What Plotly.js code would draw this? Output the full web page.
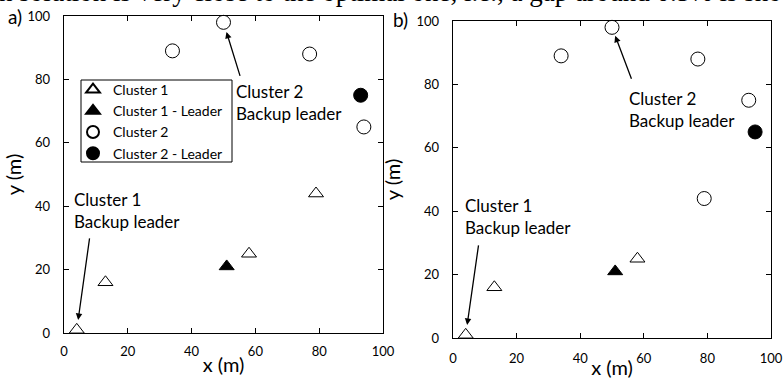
<!DOCTYPE html>
<html>
<head>
<meta charset="utf-8">
<script src="https://cdn.plot.ly/plotly-3.0.1.min.js"></script>
<style>
  html, body { margin: 0; padding: 0; background: #ffffff; }
  #chart { width: 783px; height: 379px; }
</style>
</head>
<body>
<div id="chart"></div>
<script>
// Node positions (m), panel a)
const aCluster1X = [4, 13, 58, 79];
const aCluster1Y = [1, 16, 25, 44];
const aLeader1X = [51];
const aLeader1Y = [21];
const aCluster2X = [34, 50, 77, 94];
const aCluster2Y = [89, 98, 88, 65];
const aLeader2X = [93];
const aLeader2Y = [75];

// Node positions (m), panel b)
const bCluster1X = [4, 13, 58];
const bCluster1Y = [1, 16, 25];
const bLeader1X = [51];
const bLeader1Y = [21];
const bCluster2X = [34, 50, 77, 93, 79];
const bCluster2Y = [89, 98, 88, 75, 44];
const bLeader2X = [95];
const bLeader2Y = [65];

// Backup leaders pointed at by the arrows: [cluster 1, cluster 2]
const aBackupX = [4, 50];
const aBackupY = [1, 98];
const bBackupX = [4, 50];
const bBackupY = [1, 98];

const seriesNames = ['Cluster 1', 'Cluster 1 - Leader', 'Cluster 2', 'Cluster 2 - Leader'];
const axisTicks = [0, 20, 40, 60, 80, 100];
const axisTitleX = 'x (m)';
const axisTitleY = 'y (m)';
const backupLabels = ['Cluster 1<br>Backup leader', 'Cluster 2<br>Backup leader'];
const panelLabels = ['a)', 'b)'];
const captionLine = 'n solution is very close to the optimal one, i.e., a gap around 0.5% is shown';

const FONT = 'Lato, "Open Sans", sans-serif';
const markerStyles = [
  {symbol: 'triangle-up', size: 13, color: '#ffffff', line: {color: '#000000', width: 1}},
  {symbol: 'triangle-up', size: 13, color: '#000000', line: {color: '#000000', width: 1}},
  {symbol: 'circle', size: 14, color: '#ffffff', line: {color: '#000000', width: 1}},
  {symbol: 'circle', size: 14, color: '#000000', line: {color: '#000000', width: 1}}
];

function series(xs, ys, k, xa, ya, showLegend) {
  return {
    type: 'scatter', mode: 'markers',
    x: xs, y: ys, name: seriesNames[k],
    xaxis: xa, yaxis: ya,
    marker: markerStyles[k],
    cliponaxis: false,
    showlegend: showLegend,
    hoverinfo: 'x+y+name'
  };
}

const traces = [
  series(aCluster1X, aCluster1Y, 0, 'x', 'y', true),
  series(aLeader1X, aLeader1Y, 1, 'x', 'y', true),
  series(aCluster2X, aCluster2Y, 2, 'x', 'y', true),
  series(aLeader2X, aLeader2Y, 3, 'x', 'y', true),
  series(bCluster1X, bCluster1Y, 0, 'x2', 'y2', false),
  series(bLeader1X, bLeader1Y, 1, 'x2', 'y2', false),
  series(bCluster2X, bCluster2Y, 2, 'x2', 'y2', false),
  series(bLeader2X, bLeader2Y, 3, 'x2', 'y2', false)
];

function xAxis(domain, anchor, labelGap) {
  return {
    domain: domain, anchor: anchor, range: [0, 100],
    tickvals: axisTicks, ticks: 'inside', ticklen: 5, tickwidth: 1, tickcolor: '#000',
    mirror: 'ticks', showline: true, linecolor: '#000', linewidth: 1.3,
    showgrid: false, zeroline: false,
    tickfont: {family: FONT, size: 13, color: '#000'},
    ticklabelstandoff: labelGap,
    title: {text: axisTitleX, font: {family: FONT, size: 20, color: '#000'}, standoff: 0}
  };
}
function yAxis(domain, anchor, titleGap) {
  return {
    domain: domain, anchor: anchor, range: [0, 100],
    tickvals: axisTicks, ticks: 'inside', ticklen: 5, tickwidth: 1, tickcolor: '#000',
    mirror: 'ticks', showline: true, linecolor: '#000', linewidth: 1.3,
    showgrid: false, zeroline: false,
    tickfont: {family: FONT, size: 13, color: '#000'},
    ticklabelstandoff: 10,
    title: {text: axisTitleY, font: {family: FONT, size: 20, color: '#000'}, standoff: titleGap}
  };
}

const W = 783, H = 379;
const px = v => v / W;
const py = v => 1 - v / H;

function arrow(xref, yref, x, y, ax, ay, standoff) {
  return {
    xref: xref, yref: yref, x: x, y: y, text: '', showarrow: true,
    ax: ax, ay: ay, arrowhead: 2, arrowsize: 1, arrowwidth: 1.3,
    arrowcolor: '#000', standoff: standoff
  };
}
function label(xref, yref, x, y, text) {
  return {
    xref: xref, yref: yref, x: x, y: y, text: text, showarrow: false,
    xanchor: 'left', yanchor: 'middle', align: 'left',
    font: {family: FONT, size: 17, color: '#000'}
  };
}

const annotations = [
  label('x', 'y', 2.5, 38.8, backupLabels[0]),
  label('x', 'y', 53.4, 72.6, backupLabels[1]),
  label('x2', 'y2', 3.0, 38.2, backupLabels[0]),
  label('x2', 'y2', 54.7, 72.2, backupLabels[1]),
  arrow('x', 'y', aBackupX[0], aBackupY[0], 13, -93, 10),
  arrow('x', 'y', aBackupX[1], aBackupY[1], 17, 55, 10),
  arrow('x2', 'y2', bBackupX[0], bBackupY[0], 13, -91, 10),
  arrow('x2', 'y2', bBackupX[1], bBackupY[1], 20, 53, 9),
  {xref: 'paper', yref: 'paper', x: px(6), y: py(17), text: panelLabels[0], showarrow: false,
   xanchor: 'left', yanchor: 'middle', font: {family: FONT, size: 19, color: '#000'}},
  {xref: 'paper', yref: 'paper', x: px(391), y: py(19), text: panelLabels[1], showarrow: false,
   xanchor: 'left', yanchor: 'middle', font: {family: FONT, size: 19, color: '#000'}},
  {xref: 'paper', yref: 'paper', x: px(-3), y: 1, text: captionLine, showarrow: false,
   xanchor: 'left', yanchor: 'bottom', yshift: -9,
   font: {family: '"Liberation Serif", "DejaVu Serif", serif', size: 27, color: '#000'}}
];

const layout = {
  width: W, height: H,
  margin: {l: 0, r: 0, t: 0, b: 0},
  paper_bgcolor: '#ffffff', plot_bgcolor: '#ffffff',
  font: {family: FONT, color: '#000'},
  showlegend: true,
  legend: {
    x: px(73), y: py(74), xanchor: 'left', yanchor: 'top',
    bgcolor: 'rgba(0,0,0,0)', borderwidth: 0,
    font: {family: FONT, size: 14, color: '#000'},
    itemsizing: 'constant',
    tracegroupgap: 0
  },
  xaxis: xAxis([px(64), px(383)], 'y', 6),
  yaxis: yAxis([py(333), py(16)], 'x', 0),
  xaxis2: xAxis([px(453), px(771)], 'y2', 8),
  yaxis2: yAxis([py(338), py(21)], 'x2', 10),
  shapes: [
    {type: 'rect', xref: 'paper', yref: 'paper',
     x0: px(81), x1: px(232), y0: py(162), y1: py(80),
     line: {color: '#000', width: 1}, fillcolor: 'rgba(0,0,0,0)', layer: 'above'}
  ],
  annotations: annotations
};

Plotly.newPlot('chart', traces, layout, {staticPlot: true, displayModeBar: false});
</script>
</body>
</html>
